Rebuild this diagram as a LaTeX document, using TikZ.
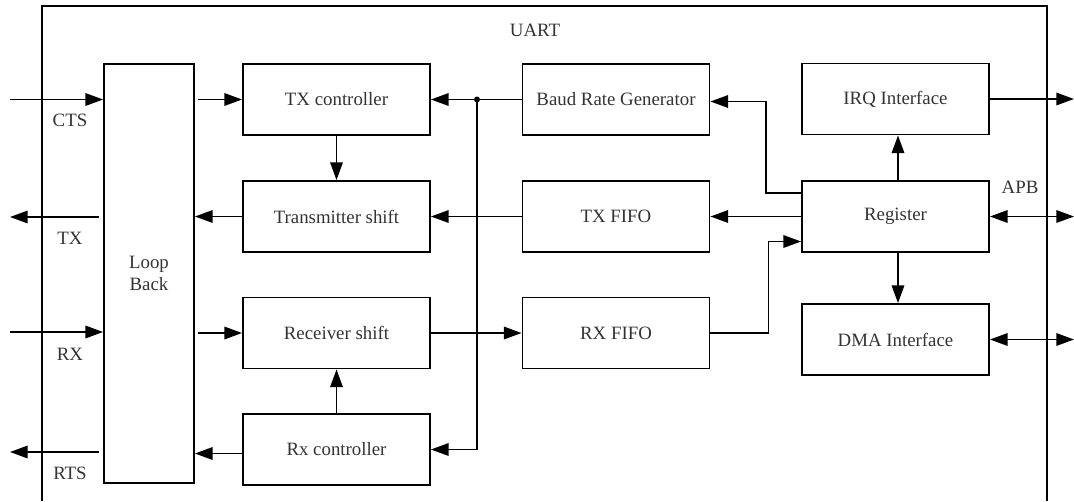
\documentclass[tikz,border=0pt]{standalone}
\usepackage{fontspec}
\setmainfont{Liberation Serif}
\usetikzlibrary{arrows.meta, positioning, calc}
\tikzset{
  uartblock/.style={rectangle, draw=black, line width=1.3pt,
                    minimum width=4.675cm, minimum height=1.775cm,
                    align=center, text=black!80, font=\fontsize{13.4}{15.8}\selectfont},
  uartlabel/.style={text=black!80, font=\fontsize{13.4}{15.8}\selectfont},
  uartarrow/.style={-{Triangle[length=4.4mm, width=3.1mm]}, line width=1.3pt},
  uartbiarrow/.style={{Triangle[length=4.4mm, width=3.1mm]}-{Triangle[length=4.4mm, width=3.1mm]}, line width=1.3pt},
  uartline/.style={line width=1.3pt},
}

\begin{document}
\begin{tikzpicture}[x=0.025cm, y=-0.025cm]
    \useasboundingbox (0,0) rectangle (1074,501);
    % Rahmen UART
    \draw[uartline] (42,501) |- (1047,6) -- (1047,501);
    \node[uartlabel] (uart) at (535,30) {UART};
    % Loop Back
    \node[uartblock, minimum width=2.25cm, minimum height=10.475cm] (lb) at (149,273.5)
      {Loop\\Back};
    % Sende- und Empfangsblocke
    \node[uartblock] (txc) at (336.5,99.5) {TX controller};
    \node[uartblock] (txs) at (336.5,216.5) {Transmitter shift};
    \node[uartblock] (rxs) at (336.5,333) {Receiver shift};
    \node[uartblock] (rxc) at (336.5,449.5) {Rx controller};
    \node[uartblock] (baud) at (616,99.5) {Baud Rate Generator};
    \node[uartblock] (txf) at (616,216.5) {TX FIFO};
    \node[uartblock] (rxf) at (616,333) {RX FIFO};
    \node[uartblock] (irq) at (895.5,99) {IRQ Interface};
    \node[uartblock] (reg) at (895.5,216.5) {Register};
    \node[uartblock] (dma) at (895.5,339.5) {DMA Interface};
    % Externe Anschlusse
    \coordinate (cts) at (10,99.5);
    \coordinate (txo) at (10,217);
    \coordinate (rxi) at (10,332);
    \coordinate (rts) at (10,452);
    \coordinate (irqo) at (1074,99);
    \coordinate (apb) at (1074,216.5);
    \coordinate (dmao) at (1074,339.5);
    \draw[uartarrow] (cts) -- (lb.west |- cts);
    \draw[uartarrow] ($(lb.west |- txo)+(-4,0)$) -- (txo);
    \draw[uartarrow] (rxi) -- (lb.west |- rxi);
    \draw[uartarrow] ($(lb.west |- rts)+(-4,0)$) -- (rts);
    \node[uartlabel] (ctsl) at (70,120) {CTS};
    \node[uartlabel] (txl) at (70,238) {TX};
    \node[uartlabel] (rxl) at (70,354) {RX};
    \node[uartlabel] (rtsl) at (70,473) {RTS};
    % Loop Back <-> Schieberegister
    \draw[uartarrow] ($(lb.east |- txc.west)+(3,0)$) -- (txc.west);
    \draw[uartarrow] (txs.west) -- (txs.west -| lb.east);
    \draw[uartarrow] ($(lb.east |- rxs.west)+(3,0)$) -- (rxs.west);
    \draw[uartarrow] ($(rxc.west)+(0,4)$) -- ($(rxc.west -| lb.east)+(0,4)$);
    \draw[uartarrow] (txc.south) -- (txs.north);
    \draw[uartarrow] (rxc.north) -- (rxs.south);
    % Baudrate-Verteilung
    \coordinate (jn) at (477,99.5);
    \draw[uartarrow] (baud.west) -- (txc.east);
    \fill (jn) circle (3);
    \draw[uartarrow] (jn) |- (rxc.east);
    % FIFO-Pfade
    \draw[uartarrow] (txf.west) -- (txs.east);
    \draw[uartarrow] (rxs.east) -- (rxf.west);
    \draw[uartarrow] (reg.west) -- (txf.east);
    \draw[uartarrow] ($(reg.west)+(0,-23.5)$) -- ++(-35,0) |- ($(baud.east)+(0,2)$);
    \draw[uartarrow] (rxf.east) -- ++(58,0) |- ($(reg.west)+(0,25)$);
    % Register-Ausgange
    \draw[uartarrow] (reg.north -| 898,0) -- (irq.south -| 898,0);
    \draw[uartarrow] (reg.south -| 898,0) -- (dma.north -| 898,0);
    \draw[uartarrow] (irq.east) -- (irqo);
    \draw[uartbiarrow] (reg.east) -- (apb);
    \draw[uartbiarrow] (dma.east) -- (dmao);
    \node[uartlabel] (apbl) at (1020,187) {APB};
  \end{tikzpicture}
\end{document}
